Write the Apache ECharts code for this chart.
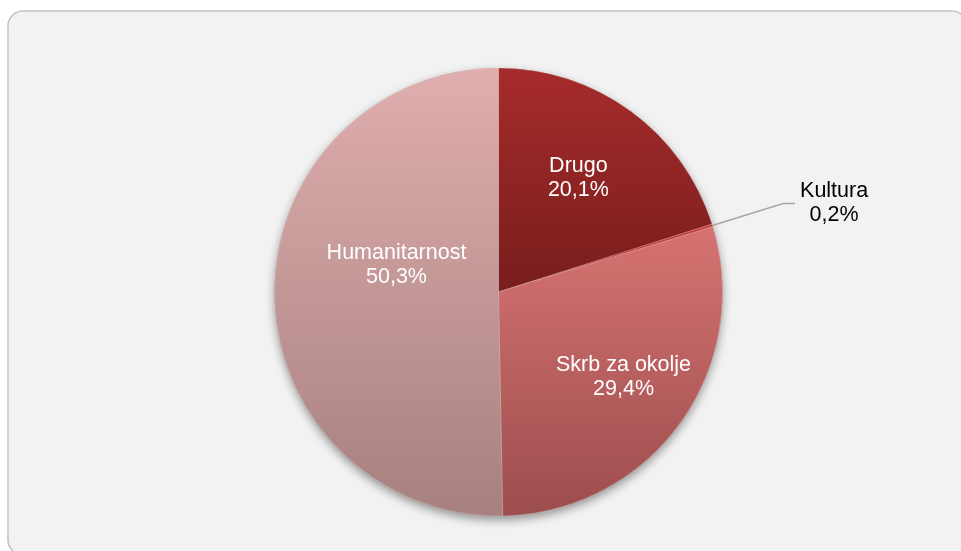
<!DOCTYPE html>
<html>
<head>
<meta charset="utf-8">
<title>Pie</title>
<script src="https://cdn.jsdelivr.net/npm/echarts@6/dist/echarts.min.js"></script>
<style>
  html, body { margin: 0; padding: 0; background: #ffffff; }
  #chart { width: 961px; height: 551px; }
</style>
</head>
<body>
<div id="chart"></div>
<script>
// podatki
const categories = ["Drugo", "Kultura", "Skrb za okolje", "Humanitarnost"]
const shares = [20.1, 0.2, 29.4, 50.3]

// barve rezin (zgoraj / spodaj)
const topColors = ["#a62c2b", "#c8423e", "#d67372", "#e0aeae"]
const bottomColors = ["#781d1d", "#b83a36", "#9c4d4d", "#a78080"]
// premik notranjih oznak
const labelNudge = [[12, -21], [0, 0], [32, 17], [13, -28]]

const center = [498.5, 292]
const radius = 224

const fmt = (v) => v.toFixed(1).replace(".", ",") + "%"

const pieData = categories.map((name, i) => {
  const inside = name !== "Kultura"
  return {
    name: name,
    value: shares[i],
    itemStyle: {
      color: {
        type: "linear",
        x: 0, y: 0, x2: 0, y2: 1,
        colorStops: [
          { offset: 0, color: topColors[i] },
          { offset: 1, color: bottomColors[i] },
        ],
      },
    },
    label: inside
      ? { position: "inside", color: "#ffffff" }
      : { position: "outside", color: "#000000", distanceToLabelLine: 5 },
    labelLine: {
      show: !inside,
      length: 74,
      length2: 12,
      lineStyle: { color: "#a6a6a6", width: 1.5 },
    },
  }
})

const chart = echarts.init(document.getElementById("chart"), null, { renderer: "canvas" })

const option = {
  backgroundColor: "#ffffff",
  animation: false,
  graphic: [
    {
      type: "rect",
      z: -10,
      shape: { x: 8, y: 11, width: 959, height: 544, r: 15 },
      style: { fill: "#f2f2f2", stroke: "#c4c4c4", lineWidth: 1.5 },
    },
  ],
  series: [
    {
      // senca pod tortnim grafikonom
      type: "pie",
      silent: true,
      center: center,
      radius: radius,
      z: 1,
      label: { show: false },
      labelLine: { show: false },
      itemStyle: {
        color: "#b07a7a",
        shadowBlur: 10,
        shadowOffsetY: 4,
        shadowColor: "rgba(0,0,0,0.4)",
      },
      data: [1],
    },
    {
      type: "pie",
      center: center,
      radius: radius,
      startAngle: 90,
      clockwise: true,
      z: 2,
      avoidLabelOverlap: false,
      itemStyle: {
        borderColor: "rgba(255,255,255,0.3)",
        borderWidth: 0.6,
      },
      label: {
        show: true,
        fontFamily: "Liberation Sans, Arial, sans-serif",
        fontSize: 21.5,
        lineHeight: 24,
        formatter: (p) => "{c|" + p.name + "}\n{c|" + fmt(p.value) + "}",
        rich: {
          c: {
            fontFamily: "Liberation Sans, Arial, sans-serif",
            fontSize: 21.5,
            lineHeight: 24,
            align: "center",
          },
        },
      },
      labelLayout: (params) => {
        const n = labelNudge[params.dataIndex]
        if (categories[params.dataIndex] === "Kultura") return {}
        return { dx: n[0], dy: n[1] }
      },
      data: pieData,
    },
  ],
}

chart.setOption(option)
window.addEventListener("resize", () => {
  chart.resize()
})
</script>
</body>
</html>
